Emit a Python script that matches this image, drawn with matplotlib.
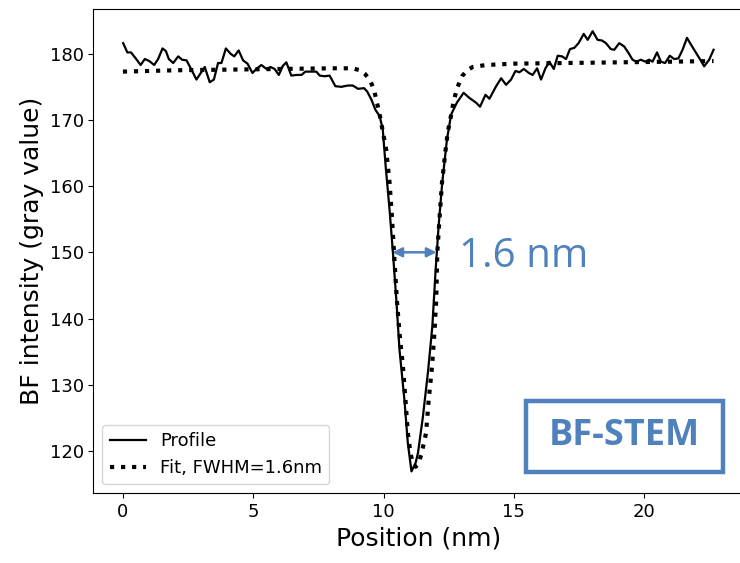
import matplotlib
matplotlib.use("Agg")
import matplotlib.pyplot as plt
from matplotlib.patches import Rectangle

# Measured profile (position in nm, BF intensity)
profile_x = [0.01, 0.17, 0.31, 0.49, 0.68, 0.84, 1.01, 1.20, 1.35, 1.52, 1.65, 1.76, 1.93, 2.12,
             2.27, 2.44, 2.63, 2.82, 2.99, 3.14, 3.33, 3.49, 3.65, 3.78, 3.95, 4.13, 4.27, 4.44,
             4.61, 4.78, 4.97, 5.12, 5.31, 5.51, 5.66, 5.82, 5.98, 6.14, 6.27, 6.46, 6.66, 6.85,
             7.00, 7.23, 7.42, 7.55, 7.74, 7.93, 8.15, 8.38, 8.63, 8.82, 9.02, 9.25, 9.37, 9.53,
             9.69, 9.85, 9.97, 10.08, 10.23, 10.36, 10.49, 10.61, 10.80, 10.93, 11.07, 11.23,
             11.32, 11.51, 11.70, 11.87, 11.99, 12.11, 12.25, 12.43, 12.59, 12.81, 13.07, 13.30,
             13.55, 13.70, 13.91, 14.06, 14.32, 14.51, 14.70, 14.89, 15.06, 15.21, 15.38, 15.57,
             15.72, 15.89, 16.04, 16.21, 16.36, 16.53, 16.68, 16.85, 17.00, 17.15, 17.32, 17.48,
             17.68, 17.83, 18.02, 18.21, 18.38, 18.53, 18.72, 18.85, 19.04, 19.23, 19.40, 19.55,
             19.70, 19.87, 20.04, 20.19, 20.32, 20.49, 20.64, 20.80, 20.98, 21.15, 21.31, 21.47,
             21.64, 21.79, 21.98, 22.15, 22.30, 22.49, 22.66]
profile_y = [181.6, 180.2, 180.2, 179.3, 178.3, 179.2, 178.9, 178.3, 179.2, 180.8, 180.4, 179.2,
             178.6, 179.6, 179.1, 179.0, 177.6, 176.1, 177.1, 178.0, 175.7, 176.1, 178.6, 178.6,
             180.8, 180.0, 179.6, 180.5, 179.0, 178.5, 177.1, 177.7, 178.3, 177.7, 178.0, 177.7,
             176.8, 178.2, 178.7, 176.7, 176.8, 176.8, 177.3, 177.3, 177.3, 176.7, 176.6, 176.7,
             175.1, 175.0, 175.2, 175.2, 174.7, 174.8, 174.3, 173.1, 171.5, 170.6, 168.5, 163.0,
             156.4, 149.9, 142.8, 135.3, 127.7, 121.2, 116.9, 118.2, 119.7, 125.2, 131.8, 138.8,
             146.9, 153.9, 160.5, 167.0, 170.8, 172.6, 174.1, 173.3, 172.6, 172.0, 173.8, 173.2,
             175.1, 176.3, 175.3, 176.1, 177.4, 177.2, 177.7, 177.1, 176.8, 177.8, 176.1, 177.8,
             178.8, 177.7, 179.7, 179.6, 179.2, 180.7, 180.9, 181.6, 183.0, 182.1, 183.4, 182.1,
             182.0, 181.6, 180.7, 180.6, 181.6, 181.1, 180.1, 179.1, 178.8, 179.1, 178.8, 179.1,
             178.8, 180.2, 178.8, 178.6, 179.7, 179.2, 179.3, 180.6, 182.4, 181.4, 180.2, 179.1,
             178.1, 179.1, 180.6]

# Fit curve
fit_x = [0.0, 2.0, 4.0, 6.0, 8.0, 8.8, 9.1, 9.30, 9.50, 9.63, 9.76, 9.87, 10.10, 10.23, 10.32,
         10.40, 10.51, 10.61, 10.74, 10.84, 10.93, 11.03, 11.13, 11.23, 11.33, 11.45, 11.63,
         11.73, 11.86, 11.95, 12.02, 12.06, 12.15, 12.24, 12.38, 12.46, 12.57, 12.68, 12.81,
         13.01, 13.20, 13.42, 13.93, 15.0, 17.0, 19.0, 21.0, 22.66]
fit_y = [177.3, 177.5, 177.6, 177.7, 177.8, 177.8, 177.5, 176.9, 175.8, 174.6, 172.4, 170.4,
         165.5, 160.5, 155.4, 149.9, 142.8, 137.8, 132.8, 127.7, 122.7, 119.7, 118.0, 117.6,
         118.0, 119.5, 122.7, 127.7, 132.8, 137.8, 142.8, 149.9, 155.4, 160.5, 165.5, 168.1,
         170.3, 172.6, 174.7, 176.6, 177.5, 178.0, 178.3, 178.5, 178.6, 178.7, 178.8, 178.9]

fwhm_text = "1.6 nm"
box_text = "BF-STEM"
blue = "#4f81bd"

fig = plt.figure(figsize=(7.4, 5.63), dpi=100)
ax = fig.add_axes([0.1262, 0.1236, 0.878, 0.860])

ax.plot(profile_x, profile_y, color="black", lw=1.6, label="Profile")
ax.plot(fit_x, fit_y, color="black", lw=3, linestyle=":", label="Fit, FWHM=1.6nm")

ax.spines["right"].set_visible(False)
ax.set_xlabel("Position (nm)", fontsize=18)
ax.set_ylabel("BF intensity (gray value)", fontsize=18)
ax.tick_params(labelsize=13)
ax.set_xticks([0, 5, 10, 15, 20])
ax.set_yticks([120, 130, 140, 150, 160, 170, 180])

ax.legend(loc="lower left", fontsize=13, handlelength=2.0)

ax.annotate("", xy=(10.34, 150), xytext=(12.03, 150),
            arrowprops=dict(arrowstyle="<|-|>", color=blue, lw=1.8,
                            shrinkA=0, shrinkB=0, mutation_scale=14))
ax.text(12.9, 149.4, fwhm_text, color=blue, fontsize=29, ha="left", va="center",
        family=["Open Sans", "DejaVu Sans"])

ax.add_patch(Rectangle((0.666, 0.045), 0.303, 0.145, transform=ax.transAxes,
                       fill=False, edgecolor=blue, lw=3.2, clip_on=False))
ax.text(0.8175, 0.118, box_text, transform=ax.transAxes, color=blue, fontsize=26,
        fontweight="bold", ha="center", va="center", family=["Open Sans", "DejaVu Sans"])

fig.savefig("out.png", dpi=100)
